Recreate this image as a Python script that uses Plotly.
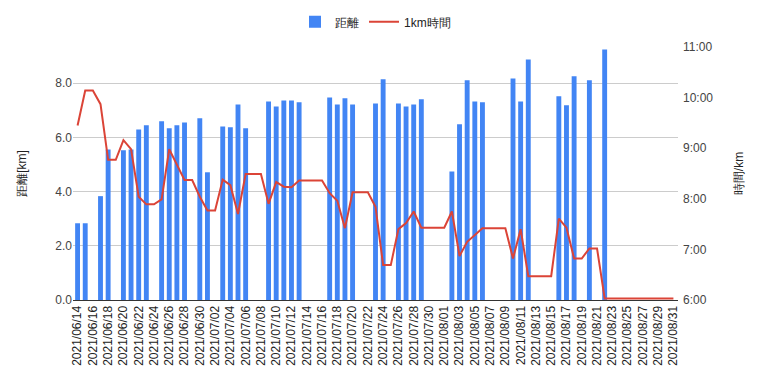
import datetime as dt
import plotly.graph_objects as go

# ---- data ----
start = dt.date(2021, 6, 14)
dates = [(start + dt.timedelta(days=i)).strftime("%Y/%m/%d") for i in range(79)]

# distance [km] per day (None = no run)
distance = [
    2.83, 2.83, None, 3.83, 5.55, None, 5.52, 5.55, 6.29, 6.44,   # 06/14-06/23
    None, 6.59, 6.33, 6.44, 6.55, None, 6.70, 4.71, None, 6.40,   # 06/24-07/03
    6.37, 7.21, 6.33, None, None, 7.32, 7.14, 7.36, 7.36, 7.29,   # 07/04-07/13
    None, None, None, 7.47, 7.21, 7.44, 7.21, None, None, 7.25,   # 07/14-07/23
    8.14, None, 7.25, 7.14, 7.21, 7.40, None, None, None, 4.74,   # 07/24-08/02
    6.48, 8.10, 7.32, 7.29, None, None, None, 8.17, 7.32, 8.87,   # 08/03-08/12
    None, None, None, 7.51, 7.18, 8.25, None, 8.10, None, 9.24,   # 08/13-08/22
    None, None, None, None, None, None, None, None, None,         # 08/23-08/31
]

# time per km [minutes]
pace = [
    9.45, 10.14, 10.14, 9.87, 8.77, 8.77, 9.16, 8.98, 8.04, 7.89,
    7.89, 7.99, 8.98, 8.67, 8.37, 8.37, 8.04, 7.77, 7.77, 8.38,
    8.27, 7.70, 8.49, 8.49, 8.49, 7.90, 8.33, 8.24, 8.23, 8.36,
    8.36, 8.36, 8.36, 8.11, 7.96, 7.42, 8.13, 8.13, 8.13, 7.84,
    6.69, 6.69, 7.40, 7.52, 7.75, 7.43, 7.43, 7.43, 7.43, 7.75,
    6.87, 7.15, 7.28, 7.42, 7.42, 7.42, 7.42, 6.82, 7.40, 6.47,
    6.47, 6.47, 6.47, 7.61, 7.43, 6.82, 6.82, 7.02, 7.02, 6.03,
    6.03, 6.03, 6.03, 6.03, 6.03, 6.03, 6.03, 6.03, 6.03,
]

left_ticks = [0, 2, 4, 6, 8]
left_ticktext = ["0.0", "2.0", "4.0", "6.0", "8.0"]
right_ticks = [6, 7, 8, 9, 10, 11]
right_ticktext = ["6:00", "7:00", "8:00", "9:00", "10:00", "11:00"]
x_ticks = dates[::2]

FONT = "Arial, 'Liberation Sans', sans-serif"

fig = go.Figure()
fig.add_trace(go.Bar(
    x=dates, y=distance, name="距離",
    marker=dict(color="#4285F4", line=dict(width=0)),
    yaxis="y",
))
fig.add_trace(go.Scatter(
    x=dates, y=pace, name="1km時間", mode="lines",
    line=dict(color="#DB4437", width=2),
    yaxis="y2",
))

fig.update_layout(
    width=763, height=385,
    margin=dict(l=65, r=93, t=39, b=93, autoexpand=False),
    paper_bgcolor="white", plot_bgcolor="white",
    font=dict(family=FONT, size=12, color="#222222"),
    bargap=0.36,
    showlegend=True,
    legend=dict(orientation="h", x=0.5, xanchor="center",
                y=0.964, yanchor="middle", yref="container",
                font=dict(size=12, color="#222222")),
    xaxis=dict(
        type="category", automargin=False,
        categoryorder="array", categoryarray=dates,
        tickmode="array", tickvals=x_ticks, ticktext=x_ticks,
        tickangle=-90, showgrid=False,
        showline=True, linecolor="#333333", linewidth=1,
        ticks="", tickfont=dict(size=12, color="#222222"),
        range=[-0.6, 78.6],
    ),
    yaxis=dict(
        automargin=False,
        title=dict(text="距離[km]", font=dict(size=12, color="#222222"), standoff=26),
        range=[0, 9.33],
        tickmode="array", tickvals=left_ticks, ticktext=left_ticktext,
        showgrid=True, gridcolor="#cccccc", gridwidth=1,
        zeroline=False, ticks="", tickfont=dict(size=12, color="#444444"),
    ),
    yaxis2=dict(
        automargin=False,
        title=dict(text="時間/km", font=dict(size=12, color="#222222"), standoff=22),
        overlaying="y", side="right",
        range=[6, 11],
        tickmode="array", tickvals=right_ticks, ticktext=right_ticktext,
        showgrid=False, zeroline=False, ticks="",
        ticklabelstandoff=4,
        tickfont=dict(size=12, color="#444444"),
    ),
)

fig.write_html("out.html")
